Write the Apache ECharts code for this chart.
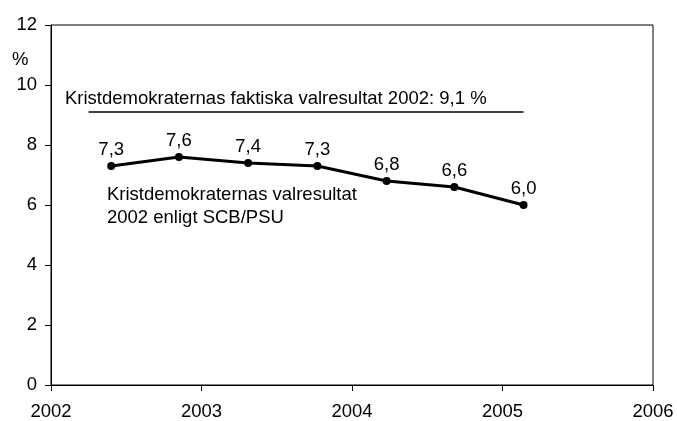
<!DOCTYPE html>
<html><head><meta charset="utf-8">
<script src="https://cdn.jsdelivr.net/npm/echarts@6/dist/echarts.min.js"></script>
<style>html,body{margin:0;padding:0;background:#fff}#c{width:677px;height:421px}</style>
</head><body><div id="c"></div>
<script>
// Data
const surveyTimes = [2002.40, 2002.85, 2003.31, 2003.77, 2004.23, 2004.68, 2005.14];
const surveyValues = [7.3, 7.6, 7.4, 7.3, 6.8, 6.6, 6.0];
const actualResultX = [2002.25, 2005.14];
const actualResultValue = 9.1;
const xTicks = [2002, 2003, 2004, 2005, 2006];
const yTicks = [0, 2, 4, 6, 8, 10, 12];
const actualLabel = 'Kristdemokraternas faktiska valresultat 2002: 9,1 %';
const seriesLabel = ['Kristdemokraternas valresultat', '2002 enligt SCB/PSU'];

const FONT = '"Liberation Sans", Arial, sans-serif';
const FS = 18.5;
const chart = echarts.init(document.getElementById('c'), null, {renderer: 'canvas'});
chart.setOption({
  animation: false,
  backgroundColor: '#fff',
  textStyle: {fontFamily: FONT},
  grid: {left: 51, right: 24, top: 25, bottom: 36, show: true, borderColor: '#000', borderWidth: 1},
  xAxis: {
    type: 'value', min: xTicks[0], max: xTicks[xTicks.length - 1], interval: 1,
    axisLine: {lineStyle: {color: '#000', width: 1}},
    axisTick: {show: true, length: 6, lineStyle: {color: '#000'}},
    splitLine: {show: false},
    axisLabel: {color: '#000', fontSize: FS, fontFamily: FONT, margin: 17, formatter: v => String(v)}
  },
  yAxis: {
    type: 'value', min: yTicks[0], max: yTicks[yTicks.length - 1], interval: 2,
    axisLine: {show: true, lineStyle: {color: '#000', width: 1}},
    axisTick: {show: true, length: 6, lineStyle: {color: '#000'}},
    splitLine: {show: false},
    axisLabel: {color: '#000', fontSize: FS, fontFamily: FONT, margin: 14}
  },
  series: [
    {
      type: 'line',
      data: surveyTimes.map((t, i) => [t, surveyValues[i]]),
      symbol: 'circle', symbolSize: 8,
      itemStyle: {color: '#000'},
      lineStyle: {color: '#000', width: 3},
      label: {show: true, position: 'top', distance: 3, color: '#000', fontSize: FS, fontFamily: FONT,
        formatter: p => p.value[1].toFixed(1).replace('.', ',')}
    },
    {
      type: 'line',
      data: actualResultX.map(x => [x, actualResultValue]),
      symbol: 'none',
      lineStyle: {color: '#000', width: 1.5}
    }
  ],
  graphic: [
    {type: 'text', left: 12, top: 50, style: {text: '%', font: FS + 'px ' + FONT, fill: '#000'}},
    {type: 'text', left: 65, top: 89, style: {text: actualLabel, font: FS + 'px ' + FONT, fill: '#000'}},
    {type: 'text', left: 107, top: 183, style: {text: seriesLabel.join('\n'), font: FS + 'px ' + FONT, lineHeight: 23, fill: '#000'}}
  ]
});
</script></body></html>
